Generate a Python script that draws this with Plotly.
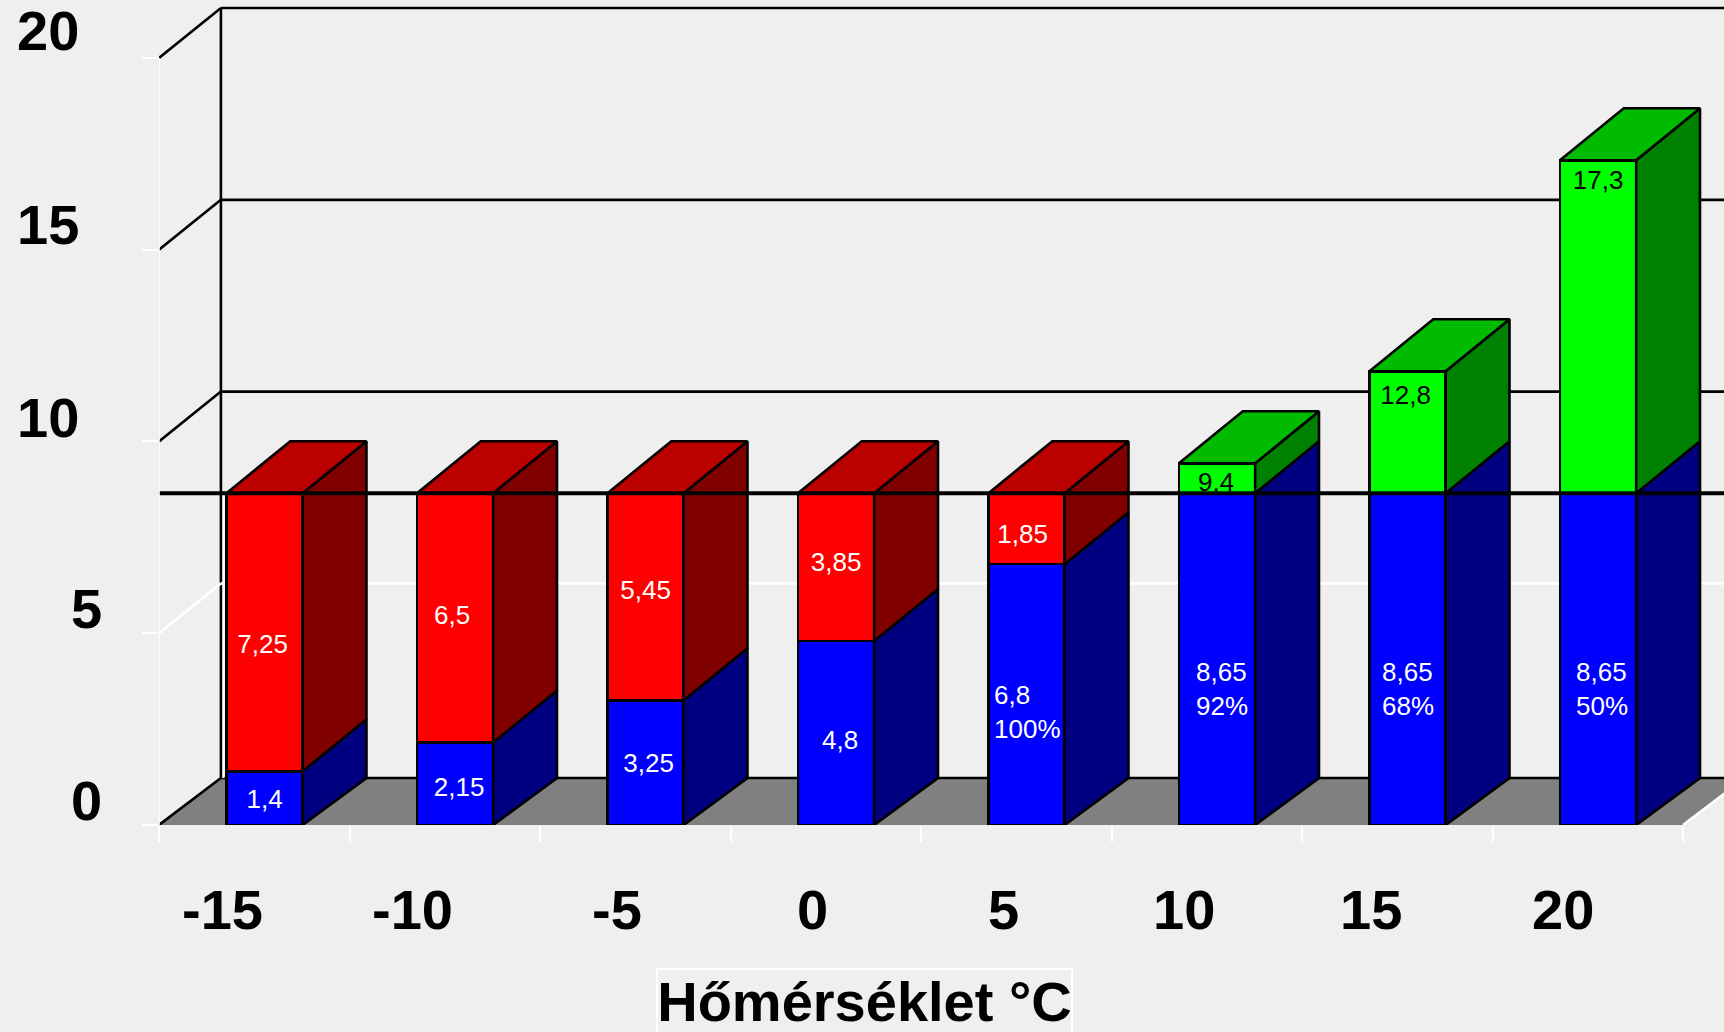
import plotly.graph_objects as go

temperatures = ['-15', '-10', '-5', '0', '5', '10', '15', '20']
blue_values = [1.4, 2.15, 3.25, 4.8, 6.8, 8.65, 8.65, 8.65]
red_values = [7.25, 6.5, 5.4, 3.85, 1.85, None, None, None]
green_values = [None, None, None, None, None, 0.78, 3.18, 8.68]

blue_labels = ['1,4', '2,15', '3,25', '4,8', '6,8<br>100%', '8,65<br>92%', '8,65<br>68%', '8,65<br>50%']
blue_label_heights = [0.61, 0.92, 1.55, 2.15, 2.95, 3.55, 3.55, 3.55]
blue_label_nudge = [0, 4, 3, 4, 1, 5, 0, 4]
red_labels = ['7,25', '6,5', '5,45', '3,85', '1,85', None, None, None]
red_label_heights = [4.65, 5.41, 6.06, 6.79, 7.52, None, None, None]
red_label_nudge = [-2, -3, 0, 0, -4, 0, 0, 0]
green_labels = [None, None, None, None, None, '9,4', '12,8', '17,3']
green_label_heights = [None, None, None, None, None, 8.87, 11.14, 16.75]
green_label_nudge = [0, 0, 0, 0, 0, -1, -2, 0]

y_ticks = [0, 5, 10, 15, 20]
y_label_shift = [25, 25, 24, 26, 28]
x_label_shift = [0, 0, -2, -6, -6, 0, -4, -2]
limit = 8.65

BG = '#EFEFEF'
FONT = 'Liberation Sans'
PX_PER_SLOT = 190.5
BAR_OFFSET = 0.554
BAR_WIDTH = 0.4
DEPTH_X = 0.335
DEPTH_Y = 1.356
FLOOR_Y = 1.226
WALL_X = 0.325
WALL_Y = 1.3
X_MAX = 8.215
Y_MAX = 21.51
EDGE = 2.6

positions = [i + BAR_OFFSET for i in range(len(temperatures))]


def add_faces(fig, polygons, color):
    xs, ys = [], []
    for polygon in polygons:
        xs += [p[0] for p in polygon] + [polygon[0][0], None]
        ys += [p[1] for p in polygon] + [polygon[0][1], None]
    fig.add_trace(go.Scatter(x=xs, y=ys, mode='lines', fill='toself', fillcolor=color,
                             line=dict(color='black', width=EDGE), hoverinfo='skip',
                             showlegend=False, cliponaxis=False))


def add_line(fig, xs, ys, color, width):
    fig.add_trace(go.Scatter(x=xs, y=ys, mode='lines', line=dict(color=color, width=width),
                             hoverinfo='skip', showlegend=False, cliponaxis=False))


def depth_of(value):
    return FLOOR_Y if value == 0 else DEPTH_Y


def side_face(x, low, high):
    right = x + BAR_WIDTH / 2
    return [(right, low), (right + DEPTH_X, low + depth_of(low)),
            (right + DEPTH_X, high + DEPTH_Y), (right, high)]


def top_face(x, top):
    left = x - BAR_WIDTH / 2
    right = x + BAR_WIDTH / 2
    return [(left, top), (left + DEPTH_X, top + DEPTH_Y), (right + DEPTH_X, top + DEPTH_Y), (right, top)]


def line_shape(x0, y0, x1, y1, color):
    return dict(type='line', xref='x', yref='y', x0=x0, y0=y0, x1=x1, y1=y1, layer='below',
                line=dict(color=color, width=EDGE))


fig = go.Figure()

for values, color in [(blue_values, '#0000FF'), (red_values, '#FF0000'), (green_values, '#00FF00')]:
    fig.add_trace(go.Bar(x=positions, y=values, width=BAR_WIDTH, marker=dict(color=color, line=dict(color='black', width=EDGE)),
                         hoverinfo='skip', showlegend=False))

blue_sides, red_sides, green_sides, red_tops, green_tops = [], [], [], [], []
for x, blue, red, green in zip(positions, blue_values, red_values, green_values):
    blue_sides.append(side_face(x, 0, blue))
    if red:
        red_sides.append(side_face(x, blue, blue + red))
        red_tops.append(top_face(x, blue + red))
    if green:
        green_sides.append(side_face(x, blue, blue + green))
        green_tops.append(top_face(x, blue + green))

add_faces(fig, blue_sides, '#000080')
add_faces(fig, red_sides, '#800000')
add_faces(fig, green_sides, '#008000')
add_faces(fig, red_tops, '#BB0000')
add_faces(fig, green_tops, '#00BB00')

# single line labels go under the limit line, it cuts the comma of 9,4
single_x, single_y, single_text, single_color = [], [], [], []
for labels, heights, nudges, color in [(blue_labels, blue_label_heights, blue_label_nudge, 'white'),
                                       (red_labels, red_label_heights, red_label_nudge, 'white'),
                                       (green_labels, green_label_heights, green_label_nudge, 'black')]:
    for x, label, height, nudge in zip(positions, labels, heights, nudges):
        if label and '<br>' not in label:
            single_x.append(x + nudge / PX_PER_SLOT)
            single_y.append(height)
            single_text.append(label)
            single_color.append(color)
fig.add_trace(go.Scatter(x=single_x, y=single_y, text=single_text, mode='text', hoverinfo='skip', showlegend=False,
                         textfont=dict(family=FONT, size=26, color=single_color)))

add_line(fig, [-0.015, X_MAX], [limit, limit], 'black', 4)
add_line(fig, [0, 8], [-0.03, -0.03], 'white', 2.5)
add_line(fig, [-0.006, -0.006], [0, 20], '#A0A0A0', 1.2)
add_line(fig, [0, 0], [0, 20], 'white', 1.6)

shapes = [dict(type='path', xref='x', yref='y', layer='below', fillcolor='#808080', line=dict(width=0),
               path=f'M 0 0 L {WALL_X} {FLOOR_Y} L {8 + WALL_X} {FLOOR_Y} L 8 0 Z')]
shapes.append(line_shape(WALL_X, FLOOR_Y, X_MAX, FLOOR_Y, 'black'))
shapes.append(line_shape(0, 0, WALL_X, FLOOR_Y, 'black'))
shapes.append(line_shape(8, 0, 8 + WALL_X, FLOOR_Y, 'white'))
shapes.append(line_shape(WALL_X + 0.012, FLOOR_Y, WALL_X + 0.012, limit, 'white'))
shapes.append(line_shape(WALL_X, FLOOR_Y, WALL_X, 20 + WALL_Y, 'black'))
for tick in y_ticks[1:]:
    color = 'white' if tick == 5 else 'black'
    shapes.append(line_shape(0, tick, WALL_X, tick + WALL_Y, color))
    shapes.append(line_shape(WALL_X, tick + WALL_Y, X_MAX, tick + WALL_Y, color))

annotations = []
for x, label, shift in zip(positions, temperatures, x_label_shift):
    annotations.append(dict(xref='x', yref='paper', x=x, y=-0.103, xshift=shift, text=label, showarrow=False,
                            xanchor='right', yanchor='middle', font=dict(family=FONT, size=56, color='black', weight='bold')))
for tick, shift in zip(y_ticks, y_label_shift):
    right_edge = -0.05 if tick >= 10 else -0.035
    annotations.append(dict(xref='paper', yref='y', x=right_edge, y=tick, yshift=shift, text=str(tick), showarrow=False, height=58,
                            xanchor='right', yanchor='middle', font=dict(family=FONT, size=56, color='black', weight='bold')))
for x, label, height, nudge in zip(positions, blue_labels, blue_label_heights, blue_label_nudge):
    if '<br>' in label:
        annotations.append(dict(xref='x', yref='y', x=x, y=height, xshift=nudge, text=label, showarrow=False, align='left',
                                font=dict(family=FONT, size=26, color='white')))
annotations.append(dict(xref='paper', yref='paper', x=0.4505, y=-0.1733, yanchor='top', text='Hőmérséklet °C', showarrow=False,
                        width=413, height=80, valign='top', bordercolor='white', borderwidth=2, borderpad=0,
                        font=dict(family=FONT, size=56, color='black', weight='bold')))

fig.update_layout(width=1724, height=1032, margin=dict(l=159, r=0, t=0, b=207),
                  paper_bgcolor=BG, plot_bgcolor=BG, barmode='stack', showlegend=False,
                  shapes=shapes, annotations=annotations)
fig.update_xaxes(range=[0, X_MAX], tickmode='array', tickvals=list(range(9)), showticklabels=False, showgrid=False, zeroline=False,
                 showline=False, ticks='outside', ticklen=16, tickwidth=2, tickcolor='white')
fig.update_yaxes(range=[0, Y_MAX], tickmode='array', tickvals=y_ticks, showticklabels=False, showgrid=False, zeroline=False,
                 showline=False, ticks='outside', ticklen=16, tickwidth=2, tickcolor='white')

fig.write_html("out.html", config=dict(displayModeBar=False), post_script="document.body.style.margin='0';")
